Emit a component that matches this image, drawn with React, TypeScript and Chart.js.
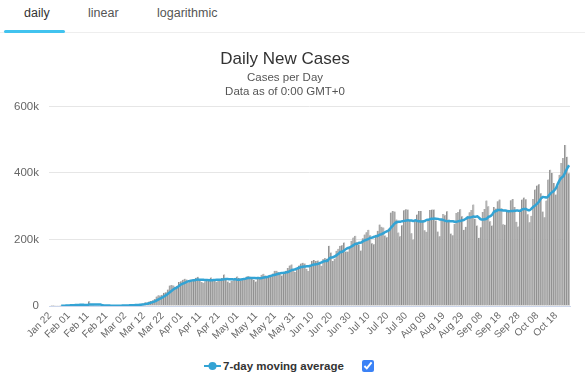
import React, { useEffect, useRef } from 'react';
import { Chart, registerables } from 'chart.js';

Chart.register(...registerables);

// ---- data (daily new cases, worldwide, 2020) ----
const monthNames = ['Jan', 'Feb', 'Mar', 'Apr', 'May', 'Jun', 'Jul', 'Aug', 'Sep', 'Oct'];
const monthFirstDay = [22, 1, 1, 1, 1, 1, 1, 1, 1, 1];

const casesJan = [0, 99, 287, 493, 684, 809, 2651, 588, 2068, 1693];
const casesFeb = [
  2111, 4749, 3094, 4011, 3738, 3237, 3892, 2729, 3005, 2528,
  2048, 14108, 5090, 2641, 2098, 2034, 1881, 1752, 600, 987,
  1005, 1367, 560, 595, 866, 1041, 1317, 1452, 1767,
];
const casesMar = [
  1857, 1920, 2267, 2217, 2647, 2830, 3906, 4016, 3765, 4447,
  7438, 7596, 10950, 10870, 13780, 15100, 17600, 20900, 28500, 32500,
  31900, 33800, 40100, 41000, 49600, 62000, 63400, 61300, 57800, 61200,
  72300,
];
const casesApr = [
  74700, 79100, 82100, 79500, 70800, 73700, 79400, 79300, 85300, 87800,
  77200, 72000, 70000, 74300, 79900, 82000, 86000, 81000, 76000, 73000,
  75000, 81000, 84000, 95000, 84000, 74000, 70000, 76000, 77000, 85000,
];
const casesMay = [
  89000, 84000, 77000, 78000, 81000, 89000, 90000, 88000, 86000, 78000,
  74000, 84000, 86000, 94000, 97000, 92000, 84000, 88000, 94000, 98000,
  106000, 106000, 102000, 98000, 92000, 98000, 106000, 114000, 122000, 125000,
  107000,
];
const casesJun = [
  102000, 114000, 122000, 128000, 130000, 128000, 112000, 105000, 123000, 136000,
  138000, 135000, 137000, 130000, 121000, 141000, 144000, 142000, 181000, 161000,
  135000, 142000, 166000, 172000, 181000, 183000, 191000, 164000, 164000, 177000,
];
const casesJul = [
  196000, 206000, 211000, 192000, 185000, 167000, 204000, 215000, 222000, 229000,
  213000, 189000, 186000, 214000, 226000, 245000, 238000, 236000, 212000, 207000,
  233000, 281000, 286000, 284000, 260000, 221000, 210000, 243000, 288000, 291000,
  290000,
];
const casesAug = [
  259000, 219000, 200000, 256000, 275000, 286000, 286000, 258000, 228000, 223000,
  261000, 289000, 290000, 290000, 257000, 224000, 210000, 260000, 277000, 273000,
  285000, 259000, 218000, 213000, 247000, 280000, 283000, 291000, 270000, 229000,
  238000,
];
const casesSep = [
  271000, 282000, 289000, 305000, 262000, 242000, 205000, 237000, 283000, 292000,
  317000, 300000, 255000, 242000, 298000, 293000, 315000, 320000, 294000, 246000,
  244000, 287000, 289000, 318000, 322000, 298000, 253000, 239000, 285000, 320000,
];
const casesOct = [
  326000, 321000, 276000, 252000, 271000, 322000, 350000, 362000, 366000, 339000,
  284000, 267000, 317000, 380000, 410000, 400000, 370000, 335000, 360000, 395000,
  430000, 445000, 484000, 449000, 399000,
];
const monthlyCases = [casesJan, casesFeb, casesMar, casesApr, casesMay, casesJun, casesJul, casesAug, casesSep, casesOct];

const yTickValues = [0, 200000, 400000, 600000];
const tabLabels = ['daily', 'linear', 'logarithmic'];

// ---- derived ----
const labels: string[] = [];
const daily: number[] = [];
monthlyCases.forEach((arr, m) => {
  arr.forEach((v, i) => {
    const d = monthFirstDay[m] + i;
    labels.push(`${monthNames[m]} ${d < 10 ? '0' + d : d}`);
    daily.push(v);
  });
});
const movingAvg: (number | null)[] = daily.map((_, i) => {
  if (i < 6) return null;
  let s = 0;
  for (let k = i - 6; k <= i; k++) s += daily[k];
  return s / 7;
});

const FONT = "'Liberation Sans', Arial, Helvetica, sans-serif";
const BLUE = '#33a3d4';

export default function App() {
  const canvasRef = useRef<HTMLCanvasElement>(null);

  useEffect(() => {
    document.body.style.margin = '0';
    const ctx = canvasRef.current!;
    const chart = new Chart(ctx, {
      data: {
        labels,
        datasets: [
          {
            type: 'line',
            label: '7-day moving average',
            data: movingAvg,
            borderColor: BLUE,
            backgroundColor: BLUE,
            borderWidth: 2.5,
            pointRadius: 0,
            tension: 0.2,
            order: 0,
          },
          {
            type: 'bar',
            label: 'Daily Cases',
            data: daily,
            backgroundColor: '#c0c0c0',
            borderColor: '#8a8a8a',
            borderWidth: { left: 1, right: 0, top: 0, bottom: 0 },
            borderSkipped: false,
            barPercentage: 1,
            categoryPercentage: 1,
            order: 1,
          },
        ],
      },
      options: {
        animation: false,
        responsive: true,
        maintainAspectRatio: false,
        layout: { padding: { left: 0, right: 15, top: 0, bottom: 0 } },
        plugins: {
          legend: { display: false },
          tooltip: { enabled: false },
          title: {
            display: true,
            text: 'Daily New Cases',
            color: '#333333',
            font: { family: FONT, size: 17, weight: 'normal', lineHeight: 1.2 },
            padding: { top: 13, bottom: 1 },
          },
          subtitle: {
            display: true,
            text: ['Cases per Day', 'Data as of 0:00 GMT+0'],
            color: '#555555',
            font: { family: FONT, size: 11.5, weight: 'normal', lineHeight: 1.22 },
            padding: { top: 0, bottom: 8 },
          },
        },
        scales: {
          x: {
            grid: { display: false, drawTicks: false },
            border: { color: '#ccd6eb', width: 1 },
            ticks: {
              autoSkip: false,
              minRotation: 45,
              maxRotation: 45,
              color: '#666666',
              font: { family: FONT, size: 10 },
              padding: 4,
              callback: (_v: any, i: number) => (i % 10 === 0 ? labels[i] : ''),
            },
            afterFit: (scale: any) => {
              scale.height = 48;
            },
          },
          y: {
            min: 0,
            max: 600000,
            afterBuildTicks: (scale: any) => {
              scale.ticks = yTickValues.map((v) => ({ value: v }));
            },
            grid: { color: '#e6e6e6', drawTicks: false },
            border: { display: false },
            ticks: {
              color: '#666666',
              font: { family: FONT, size: 11.5 },
              padding: 10,
              callback: (v: any) => (v === 0 ? '0' : `${v / 1000}k`),
            },
            afterFit: (scale: any) => {
              scale.width = 49;
            },
          },
        },
      },
    });
    return () => chart.destroy();
  }, []);

  return (
    <div style={{ position: 'absolute', left: 0, top: 0, width: 585, height: 380, background: '#fff', overflow: 'hidden' }}>
      <div style={{ position: 'absolute', left: 0, top: 0, width: 585, height: 32, borderBottom: '1px solid #eeeeee' }}>
        {tabLabels.map((t, i) => (
          <div
            key={t}
            style={{
              position: 'absolute',
              top: 6,
              left: [24, 88, 157][i],
              fontFamily: FONT,
              fontSize: 12.5,
              color: i === 0 ? '#333' : '#555',
            }}
          >
            {t}
          </div>
        ))}
        <div style={{ position: 'absolute', left: 4, top: 30, width: 61, height: 3, background: '#41c3ef', borderRadius: 2 }} />
      </div>
      <div style={{ position: 'absolute', left: 0, top: 36, width: 585, height: 318 }}>
        <canvas ref={canvasRef} />
      </div>
      <div
        style={{
          position: 'absolute',
          left: 204,
          top: 358,
          height: 16,
          display: 'flex',
          alignItems: 'center',
          fontFamily: FONT,
          fontSize: 11.5,
          fontWeight: 'bold',
          color: '#333',
        }}
      >
        <svg width={17} height={10} style={{ marginRight: 2 }}>
          <line x1={0} y1={5} x2={17} y2={5} stroke={BLUE} strokeWidth={2} />
          <circle cx={8.5} cy={5} r={4} fill={BLUE} />
        </svg>
        <span>7-day moving average</span>
        <input type="checkbox" checked readOnly style={{ margin: '0 0 0 18px', width: 12, height: 12, accentColor: '#3b82f6' }} />
      </div>
    </div>
  );
}
